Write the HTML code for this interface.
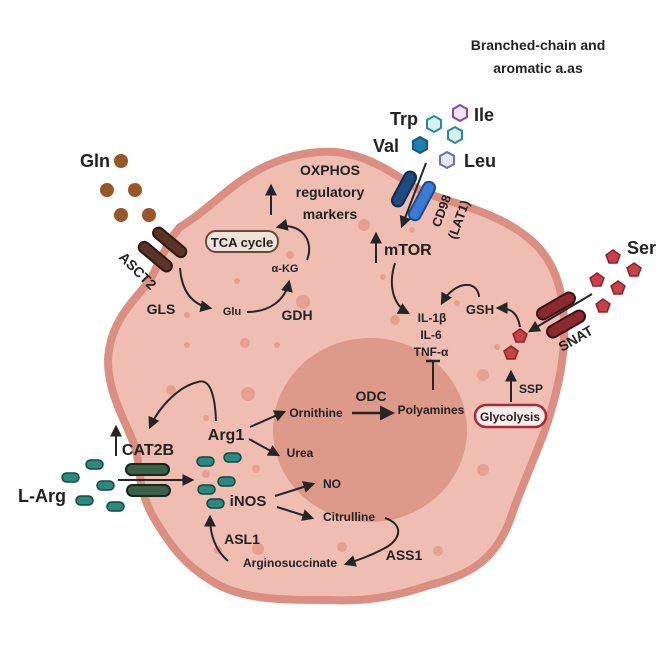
<!DOCTYPE html>
<html><head><meta charset="utf-8"><style>
html,body{margin:0;padding:0;background:#fff;}
svg{display:block;font-family:"Liberation Sans",sans-serif;font-weight:bold;}
</style></head><body>
<svg width="669" height="650" viewBox="0 0 669 650" xmlns="http://www.w3.org/2000/svg">
<defs>
<marker id="ah" viewBox="0 0 10 10" refX="8" refY="5" markerWidth="6" markerHeight="6" orient="auto-start-reverse"><path d="M0,0 L10,5 L0,10 z" fill="#262626"/></marker>
</defs>
<path d="M180,227 C200,215 215,200 235,185 C265,162 300,150 335,152 C370,155 395,175 420,190 C440,200 470,205 500,220 C530,235 555,255 562,300 C568,340 562,380 545,430 C530,470 520,490 510,520 C495,560 470,575 430,585 C400,595 370,602 330,600 C280,600 240,600 210,580 C185,565 170,545 155,520 C140,495 140,475 137,455 C132,430 108,400 108,360 C110,320 135,300 150,280 C160,262 168,240 180,227 Z" fill="#f0bdb2" stroke="#db8e82" stroke-width="8"/>
<ellipse cx="370" cy="430" rx="97" ry="92" fill="#dd9a8b"/>
<g fill="#e6a092">
<circle cx="364" cy="225" r="6"/><circle cx="290" cy="255" r="4"/><circle cx="237" cy="281" r="3"/><circle cx="303" cy="302" r="7"/><circle cx="187" cy="315" r="3"/><circle cx="245" cy="343" r="5"/><circle cx="395" cy="320" r="5"/><circle cx="383" cy="277" r="3"/><circle cx="412" cy="230" r="3"/><circle cx="457" cy="303" r="3"/><circle cx="497" cy="347" r="3"/><circle cx="483" cy="375" r="6"/><circle cx="483" cy="470" r="6"/><circle cx="187" cy="345" r="3"/><circle cx="171" cy="390" r="5"/><circle cx="248" cy="394" r="7"/><circle cx="277" cy="345" r="3"/><circle cx="256" cy="469" r="4"/><circle cx="206" cy="418" r="3"/><circle cx="206" cy="474" r="4"/><circle cx="258" cy="549" r="6"/><circle cx="342" cy="547" r="5"/><circle cx="438" cy="551" r="5"/><circle cx="218" cy="550" r="4"/>
</g>
<text x="538" y="50" font-size="14" text-anchor="middle" fill="#222">Branched-chain and</text>
<text x="538" y="73" font-size="14" text-anchor="middle" fill="#222">aromatic a.as</text>
<text x="390" y="125" font-size="18" fill="#222">Trp</text>
<text x="474" y="121" font-size="18" fill="#222">Ile</text>
<text x="373" y="152" font-size="18" fill="#222">Val</text>
<text x="464" y="167" font-size="18" fill="#222">Leu</text>
<polygon points="434,116 441,120 441,128 434,132 427,128 427,120" fill="#d8f0f0" stroke="#2a8a95" stroke-width="2"/>
<polygon points="460,105 467,109 467,117 460,121 453,117 453,109" fill="#eee5f7" stroke="#7a4bb0" stroke-width="2"/>
<polygon points="455,127 462,131 462,139 455,143 448,139 448,131" fill="#d8f0f0" stroke="#2a8a95" stroke-width="2"/>
<polygon points="420,137 427,141 427,149 420,153 413,149 413,141" fill="#1f7fb0" stroke="#145a80" stroke-width="2"/>
<polygon points="447,152 454,156 454,164 447,168 440,164 440,156" fill="#e6e6f7" stroke="#6a6ac0" stroke-width="2"/>
<rect x="398" y="170" width="12" height="38" rx="6" fill="#1e4a80" stroke="#112a4a" stroke-width="2" transform="rotate(28 404 189)"/>
<rect x="416" y="180" width="12" height="42" rx="6" fill="#3a7ad0" stroke="#1e4a90" stroke-width="2" transform="rotate(28 422 201)"/>
<line x1="426" y1="163" x2="402" y2="226" stroke="#262626" stroke-width="2" marker-end="url(#ah)"/>
<text x="0" y="0" font-size="13" fill="#222" transform="translate(440,228) rotate(-70)">CD98</text>
<text x="0" y="0" font-size="13" fill="#222" transform="translate(456,240) rotate(-70)">(LAT1)</text>
<text x="384" y="255" font-size="16" fill="#222">mTOR</text>
<line x1="376" y1="263" x2="376" y2="234" stroke="#262626" stroke-width="2" marker-end="url(#ah)"/>
<text x="330" y="175" font-size="14" text-anchor="middle" fill="#222">OXPHOS</text>
<text x="330" y="197" font-size="14" text-anchor="middle" fill="#222">regulatory</text>
<text x="330" y="219" font-size="14" text-anchor="middle" fill="#222">markers</text>
<line x1="271" y1="215" x2="271" y2="186" stroke="#262626" stroke-width="2" marker-end="url(#ah)"/>
<rect x="206" y="231" width="72" height="21" rx="10" fill="#efe2da" stroke="#6b4a3c" stroke-width="2"/>
<text x="242" y="247" font-size="13" text-anchor="middle" fill="#222">TCA cycle</text>
<text x="285" y="272" font-size="11" text-anchor="middle" fill="#222">α-KG</text>
<text x="232" y="315" font-size="11" text-anchor="middle" fill="#222">Glu</text>
<text x="161" y="314" font-size="14" text-anchor="middle" fill="#222">GLS</text>
<text x="297" y="320" font-size="14" text-anchor="middle" fill="#222">GDH</text>
<path d="M307,260 C315,240 300,222 278,227" fill="none" stroke="#262626" stroke-width="2" marker-end="url(#ah)"/>
<path d="M247,312 C270,312 285,300 289,282" fill="none" stroke="#262626" stroke-width="2" marker-end="url(#ah)"/>
<path d="M180,268 C182,295 195,305 210,308" fill="none" stroke="#262626" stroke-width="2" marker-end="url(#ah)"/>
<text x="80" y="167" font-size="18" fill="#222">Gln</text>
<g fill="#9a5528"><circle cx="121" cy="161" r="7"/><circle cx="107" cy="190" r="7"/><circle cx="135" cy="190" r="7"/><circle cx="121" cy="215" r="7"/><circle cx="149" cy="215" r="7"/></g>
<rect x="150" y="237" width="40" height="11" rx="5.5" fill="#5a3426" stroke="#2e1a12" stroke-width="2" transform="rotate(40 170 242)"/>
<rect x="135" y="251" width="40" height="11" rx="5.5" fill="#5a3426" stroke="#2e1a12" stroke-width="2" transform="rotate(40 155 257)"/>
<text x="0" y="0" font-size="14" fill="#222" transform="translate(118,258) rotate(45)">ASCT2</text>
<path d="M395,263 C388,285 393,305 408,313" fill="none" stroke="#262626" stroke-width="2" marker-end="url(#ah)"/>
<text x="432" y="322" font-size="12" text-anchor="middle" fill="#222">IL-1β</text>
<text x="431" y="339" font-size="12" text-anchor="middle" fill="#222">IL-6</text>
<text x="431" y="356" font-size="12" text-anchor="middle" fill="#222">TNF-α</text>
<line x1="433" y1="390" x2="433" y2="362" stroke="#262626" stroke-width="2"/>
<line x1="426" y1="361" x2="440" y2="361" stroke="#262626" stroke-width="2.5"/>
<text x="480" y="314" font-size="13" text-anchor="middle" fill="#222">GSH</text>
<path d="M479,297 C478,280 455,280 442,303" fill="none" stroke="#262626" stroke-width="2" marker-end="url(#ah)"/>
<path d="M520,327 C518,315 513,308 498,308" fill="none" stroke="#262626" stroke-width="2" marker-end="url(#ah)"/>
<text x="627" y="254" font-size="18" fill="#222">Ser</text>
<g fill="#c8404a" stroke="#8a2228" stroke-width="1.5">
<polygon points="613,250 620,255 617,263 609,263 606,255"/>
<polygon points="634,263 641,268 638,276 630,276 627,268"/>
<polygon points="597,273 604,278 601,286 593,286 590,278"/>
<polygon points="618,281 625,286 622,294 614,294 611,286"/>
<polygon points="603,299 610,304 607,312 599,312 596,304"/>
<polygon points="520,329 527,334 524,342 516,342 513,334"/>
<polygon points="511,346 518,351 515,359 507,359 504,351"/>
</g>
<rect x="535" y="300" width="42" height="12" rx="6" fill="#8a2a2e" stroke="#3a1012" stroke-width="2" transform="rotate(-30 556 306)"/>
<rect x="545" y="318" width="42" height="12" rx="6" fill="#8a2a2e" stroke="#3a1012" stroke-width="2" transform="rotate(-30 566 324)"/>
<text x="0" y="0" font-size="14" fill="#222" transform="translate(562,352) rotate(-30)">SNAT</text>
<line x1="592" y1="294" x2="530" y2="331" stroke="#262626" stroke-width="2" marker-end="url(#ah)"/>
<text x="531" y="393" font-size="12" text-anchor="middle" fill="#222">SSP</text>
<line x1="511" y1="402" x2="511" y2="372" stroke="#262626" stroke-width="2" marker-end="url(#ah)"/>
<rect x="475" y="405" width="71" height="22" rx="11" fill="#fbeaea" stroke="#a02c3a" stroke-width="2.5"/>
<text x="510" y="421" font-size="12" text-anchor="middle" fill="#222">Glycolysis</text>
<text x="431" y="414" font-size="12" text-anchor="middle" fill="#222">Polyamines</text>
<text x="371" y="401" font-size="14" text-anchor="middle" fill="#222">ODC</text>
<line x1="352" y1="413" x2="392" y2="413" stroke="#262626" stroke-width="2.5" marker-end="url(#ah)"/>
<text x="316" y="417" font-size="12" text-anchor="middle" fill="#222">Ornithine</text>
<text x="300" y="457" font-size="12" text-anchor="middle" fill="#222">Urea</text>
<text x="226" y="440" font-size="16" text-anchor="middle" fill="#222">Arg1</text>
<line x1="250" y1="427" x2="284" y2="412" stroke="#262626" stroke-width="2" marker-end="url(#ah)"/>
<line x1="249" y1="439" x2="278" y2="455" stroke="#262626" stroke-width="2" marker-end="url(#ah)"/>
<path d="M216,421 C215,395 210,378 198,382 C180,386 160,405 150,427" fill="none" stroke="#262626" stroke-width="2" marker-end="url(#ah)"/>
<text x="148" y="455" font-size="16" text-anchor="middle" fill="#222">CAT2B</text>
<line x1="116" y1="456" x2="116" y2="427" stroke="#262626" stroke-width="2" marker-end="url(#ah)"/>
<text x="18" y="502" font-size="18" fill="#222">L-Arg</text>
<g fill="#2a8a80" stroke="#17453f" stroke-width="1.5">
<rect x="86" y="460" width="17" height="9" rx="4.5"/><rect x="62" y="473" width="17" height="9" rx="4.5"/><rect x="97" y="481" width="17" height="9" rx="4.5"/><rect x="76" y="496" width="17" height="9" rx="4.5"/><rect x="107" y="502" width="17" height="9" rx="4.5"/>
<rect x="197" y="457" width="17" height="9" rx="4.5"/><rect x="224" y="453" width="17" height="9" rx="4.5"/><rect x="218" y="477" width="17" height="9" rx="4.5"/><rect x="198" y="485" width="17" height="9" rx="4.5"/><rect x="207" y="499" width="17" height="9" rx="4.5"/>
</g>
<rect x="126" y="464" width="43" height="11" rx="5.5" fill="#3a6048" stroke="#15281c" stroke-width="2"/>
<rect x="127" y="485" width="43" height="11" rx="5.5" fill="#3a6048" stroke="#15281c" stroke-width="2"/>
<line x1="118" y1="480" x2="192" y2="480" stroke="#262626" stroke-width="2" marker-end="url(#ah)"/>
<text x="248" y="506" font-size="15" text-anchor="middle" fill="#222">iNOS</text>
<line x1="275" y1="496" x2="313" y2="484" stroke="#262626" stroke-width="2" marker-end="url(#ah)"/>
<line x1="277" y1="507" x2="312" y2="518" stroke="#262626" stroke-width="2" marker-end="url(#ah)"/>
<text x="332" y="488" font-size="12" text-anchor="middle" fill="#222">NO</text>
<text x="349" y="521" font-size="12" text-anchor="middle" fill="#222">Citrulline</text>
<path d="M385,518 C405,525 400,540 385,548 C370,556 358,560 346,564" fill="none" stroke="#262626" stroke-width="2" marker-end="url(#ah)"/>
<text x="404" y="560" font-size="14" text-anchor="middle" fill="#222">ASS1</text>
<text x="290" y="567" font-size="12" text-anchor="middle" fill="#222">Arginosuccinate</text>
<text x="242" y="544" font-size="14" text-anchor="middle" fill="#222">ASL1</text>
<path d="M228,561 C215,550 210,535 210,517" fill="none" stroke="#262626" stroke-width="2" marker-end="url(#ah)"/>
</svg>
</body></html>
